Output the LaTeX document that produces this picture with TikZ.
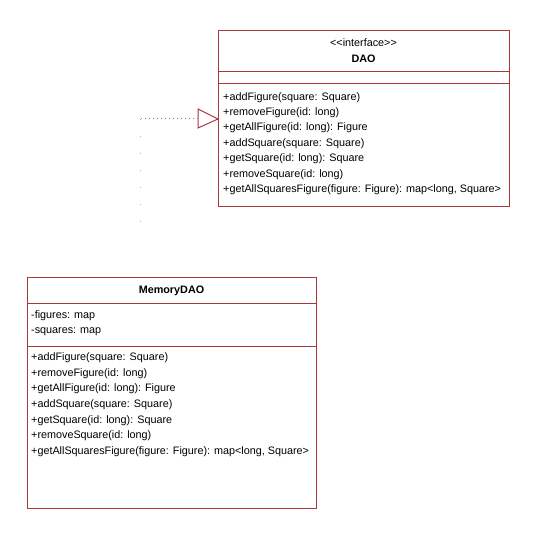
\documentclass[tikz,border=0pt]{standalone}
\usepackage{fontspec}
\setmainfont{Liberation Sans}
\begin{document}
\begin{tikzpicture}[x=1pt,y=-1pt,
  umlline/.style={draw=umlred, line width=1pt},
  txt/.style={anchor=west, inner sep=0pt, font=\fontsize{10.8}{12}\selectfont, text=black},
  ttl/.style={inner sep=0pt, font=\fontsize{10.8}{12}\selectfont, text=black}]
\definecolor{umlred}{HTML}{A8383C}
\useasboundingbox (0,0) rectangle (536,540);
% DAO box
\node[umlline, draw, minimum width=291pt, minimum height=176pt, anchor=north west, inner sep=0pt] (dao) at (218,30) {};
\draw[umlline] (218,72) -- (509,72);
\draw[umlline] (218,84) -- (509,84);
\node[ttl] (daos) at (363.5,43) {{<}{<}interface{>}{>}};
\node[ttl, font=\fontsize{10.8}{12}\selectfont\bfseries] (daon) at (363.5,59) {DAO};
\foreach \t [count=\i] in {{+addFigure(square: Square)},{+removeFigure(id: long)},{+getAllFigure(id: long): Figure},{+addSquare(square: Square)},{+getSquare(id: long): Square},{+removeSquare(id: long)},{+getAllSquaresFigure(figure: Figure): map<long, Square>}}
  \node[txt] (dm\i) at (223,{82+15.4*\i}) {\t};
% MemoryDAO box
\node[umlline, draw, minimum width=289pt, minimum height=231pt, anchor=north west, inner sep=0pt] (mem) at (27,277) {};
\draw[umlline] (27,303) -- (316,303);
\draw[umlline] (27,346) -- (316,346);
\node[ttl, font=\fontsize{10.8}{12}\selectfont\bfseries] (memn) at (171.5,291) {MemoryDAO};
\node[txt] (ma1) at (31,316) {-figures: map};
\node[txt] (ma2) at (31,332) {-squares: map};
\foreach \t [count=\i] in {{+addFigure(square: Square)},{+removeFigure(id: long)},{+getAllFigure(id: long): Figure},{+addSquare(square: Square)},{+getSquare(id: long): Square},{+removeSquare(id: long)},{+getAllSquaresFigure(figure: Figure): map<long, Square>}}
  \node[txt] (mm\i) at (31,{342+15.7*\i}) {\t};
% realization connector
\coordinate (tip) at (218,119);
\coordinate (corner) at (140,119);
\coordinate (free) at (140,238);
\draw[umlred, line width=1pt] (tip) -- (198,109) -- (198,128) -- cycle;
\draw[umlred!70, line width=1pt, dash pattern=on 1pt off 3pt] (198,119) -- (corner);
\draw[umlred!50, line width=1pt, dash pattern=on 1pt off 16pt] (corner) -- (free);
\end{tikzpicture}
\end{document}
